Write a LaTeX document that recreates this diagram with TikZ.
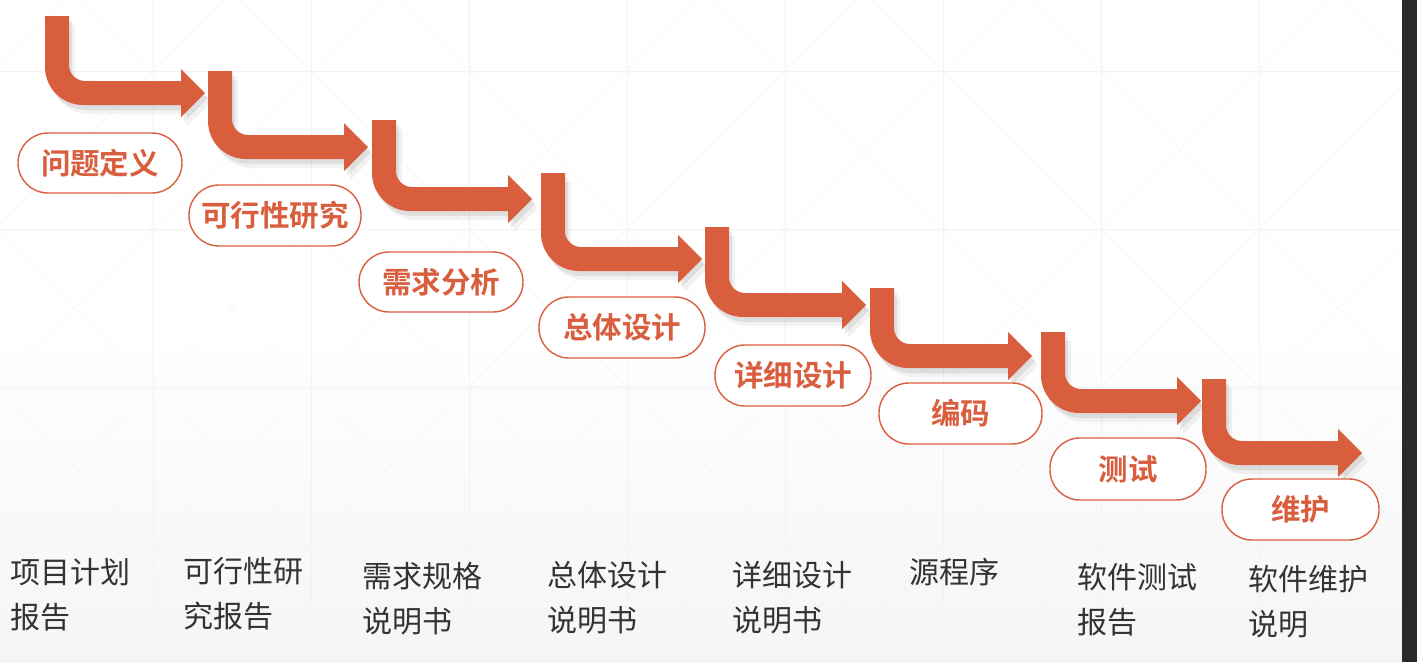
\documentclass[tikz,border=0pt]{standalone}
\usepackage{fontspec}
\setmainfont{Noto Sans CJK SC}
\newfontfamily\cjk{Noto Sans CJK SC}
\newfontfamily\cjkbold{Noto Sans CJK SC Bold}
\definecolor{stairc}{HTML}{D95E3E}
\definecolor{labelc}{HTML}{333333}
\definecolor{stripc}{HTML}{2A2A2A}
\tikzset{
  pill/.style={draw=stairc, line width=1.4pt, fill=white, rounded corners=30pt, inner sep=0pt,
               text=stairc, font=\cjkbold\fontsize{29.5}{29.5}\selectfont},
  doclabel/.style={anchor=west, align=left, inner sep=0pt, text=labelc,
               font=\cjk\fontsize{30}{45}\selectfont},
  gridline/.style={draw=black!5, line width=0.7pt},
  diagline/.style={draw=black!3.5, line width=0.6pt}
}
\newcommand\stairpath[4]{%
  (#1,#2) -- ({#1+24},#2) -- ({#1+24},{#4-12-16})
  .. controls ({#1+24},{#4-12-16+0.552*16}) and ({#1+24+16-0.552*16},{#4-12}) .. ({#1+24+16},{#4-12})
  -- ({#3-24},{#4-12}) -- ({#3-24},{#4-24}) -- (#3,#4) -- ({#3-24},{#4+24}) -- ({#3-24},{#4+12})
  -- ({#1+38},{#4+12})
  .. controls ({#1+38-0.552*38},{#4+12}) and (#1,{#4+12-38+0.552*38}) .. (#1,{#4+12-38}) -- cycle}
\newcommand\stairarrow[4]{%
  \fill[black, opacity=0.05, xshift=6pt, yshift=-9pt] \stairpath{#1}{#2}{#3}{#4};
  \fill[black, opacity=0.08, xshift=3pt, yshift=-5pt] \stairpath{#1}{#2}{#3}{#4};
  \fill[stairc] \stairpath{#1}{#2}{#3}{#4};
}
\begin{document}
\begin{tikzpicture}[x=1pt, y=-1pt]
\useasboundingbox (0,0) rectangle (1417,662);
% background
\fill[white] (0,0) rectangle (1417,662);
\shade[top color=white, bottom color=black!4] (0,330) rectangle (1402,662);
\begin{scope}
\clip (0,0) rectangle (1402,662);
\foreach \gx in {-5,153,311,469,627,785,943,1101,1259} {
  \foreach \gy in {-87,71,229,387,545} {
    \draw[diagline] (\gx,\gy) -- ({\gx+158},{\gy+158});
    \draw[diagline] ({\gx+158},\gy) -- (\gx,{\gy+158});
  }
}
\foreach \gx in {153,311,469,627,785,943,1101,1259} \draw[gridline] (\gx,0) -- (\gx,662);
\foreach \gy in {71,229,387,545} \draw[gridline] (0,\gy) -- (1402,\gy);
\end{scope}
\fill[stripc] (1402,0) rectangle (1417,662);
% stair arrows
\stairarrow{45}{16}{205}{93}
\stairarrow{208}{71}{368}{147}
\stairarrow{372}{120}{532}{199}
\stairarrow{541}{173}{702}{259}
\stairarrow{705}{227}{866}{305}
\stairarrow{870}{288}{1032}{356}
\stairarrow{1041}{332}{1201}{401}
\stairarrow{1202}{379}{1362}{453}
% phase pills
\node[pill, minimum width=164pt, minimum height=60pt] (p1) at (100,163) {问题定义};
\node[pill, minimum width=172pt, minimum height=61pt] (p2) at (275,215.5) {可行性研究};
\node[pill, minimum width=164pt, minimum height=60pt] (p3) at (441,282) {需求分析};
\node[pill, minimum width=166pt, minimum height=61pt] (p4) at (622,327.5) {总体设计};
\node[pill, minimum width=156pt, minimum height=61pt] (p5) at (793,375.5) {详细设计};
\node[pill, minimum width=163pt, minimum height=61pt] (p6) at (960.5,413.5) {编码};
\node[pill, minimum width=156pt, minimum height=62pt] (p7) at (1128,469) {测试};
\node[pill, minimum width=157pt, minimum height=61pt] (p8) at (1300.5,509.5) {维护};
% documents
\node[doclabel] (d1) at (10,594.5) {项目计划\\报告};
\node[doclabel] (d2) at (183,593.5) {可行性研\\究报告};
\node[doclabel] (d3) at (362,599) {需求规格\\说明书};
\node[doclabel] (d4) at (547,597.5) {总体设计\\说明书};
\node[doclabel] (d5) at (732,597.5) {详细设计\\说明书};
\node[doclabel] (d6) at (909,572) {源程序};
\node[doclabel] (d7) at (1077,599.5) {软件测试\\报告};
\node[doclabel] (d8) at (1248,601.5) {软件维护\\说明};
\end{tikzpicture}
\end{document}
